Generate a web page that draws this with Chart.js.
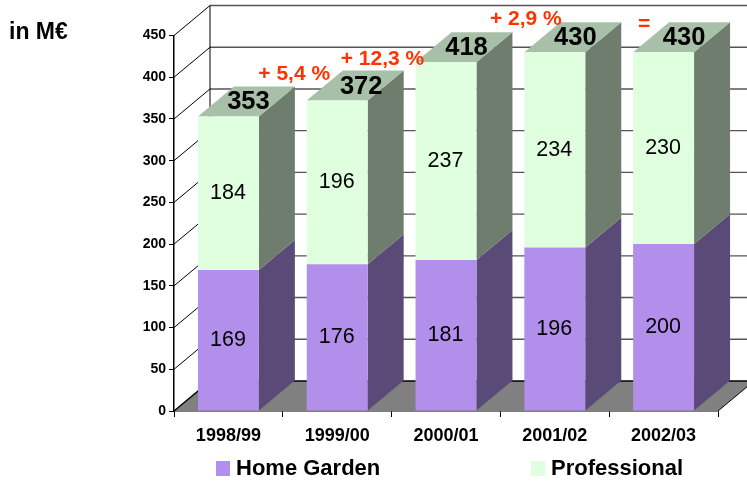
<!DOCTYPE html>
<html>
<head>
<meta charset="utf-8">
<title>Revenue by season</title>
<script src="https://cdn.jsdelivr.net/npm/chart.js@4/dist/chart.umd.min.js"></script>
<style>
  html, body { margin: 0; padding: 0; background: #fff; }
  canvas { display: block; }
</style>
</head>
<body>
<canvas id="myChart" width="747" height="483"></canvas>
<script>
const seasons = ['1998/99', '1999/00', '2000/01', '2001/02', '2002/03'];
const homeGarden = [169, 176, 181, 196, 200];
const professional = [184, 196, 237, 234, 230];
const totals = [353, 372, 418, 430, 430];
const growth = ['+ 5,4 %', '+ 12,3 %', '+ 2,9 %', '='];
const yMax = 450;
const yStep = 50;

const FONT = '"Liberation Sans", Arial, sans-serif';
const DEPTH_X = 36;
const DEPTH_Y = 30;

function poly(ctx, pts, fill) {
  ctx.beginPath();
  pts.forEach((p, i) => i ? ctx.lineTo(p[0], p[1]) : ctx.moveTo(p[0], p[1]));
  ctx.closePath();
  ctx.fillStyle = fill;
  ctx.fill();
}

function line(ctx, x1, y1, x2, y2, color, width) {
  ctx.beginPath();
  ctx.moveTo(x1, y1);
  ctx.lineTo(x2, y2);
  ctx.strokeStyle = color;
  ctx.lineWidth = width;
  ctx.stroke();
}

// back wall, side wall and floor of the box, then the bar sides and tops
const box3d = {
  id: 'box3d',
  beforeDatasetsDraw(chart) {
    const { ctx, chartArea: a, scales: { y } } = chart;
    ctx.save();

    for (let v = yStep; v <= yMax; v += yStep) {
      const py = y.getPixelForValue(v);
      line(ctx, a.left + DEPTH_X, py - DEPTH_Y, a.right + DEPTH_X, py - DEPTH_Y, '#555', 1.4);
      line(ctx, a.left, py, a.left + DEPTH_X, py - DEPTH_Y, '#000', 1);
    }
    line(ctx, a.left + DEPTH_X, a.top - DEPTH_Y, a.left + DEPTH_X, a.bottom - DEPTH_Y, '#000', 1);

    poly(ctx, [[a.left, a.bottom], [a.right, a.bottom],
      [a.right + DEPTH_X, a.bottom - DEPTH_Y], [a.left + DEPTH_X, a.bottom - DEPTH_Y]], '#808080');
    line(ctx, a.left + DEPTH_X, a.bottom - DEPTH_Y, a.right + DEPTH_X, a.bottom - DEPTH_Y, '#000', 1.5);
    line(ctx, a.left, a.bottom, a.left + DEPTH_X, a.bottom - DEPTH_Y, '#000', 1.5);
    line(ctx, a.right, a.bottom, a.right + DEPTH_X, a.bottom - DEPTH_Y, '#000', 1);

    const sides = ['#5a4a78', '#6e7d6e'];
    chart.data.datasets.forEach((ds, i) => {
      chart.getDatasetMeta(i).data.forEach(bar => {
        const r = bar.x + bar.width / 2;
        poly(ctx, [[r, bar.base], [r, bar.y], [r + DEPTH_X, bar.y - DEPTH_Y], [r + DEPTH_X, bar.base - DEPTH_Y]], sides[i]);
      });
    });
    chart.getDatasetMeta(1).data.forEach(bar => {
      const l = bar.x - bar.width / 2, r = bar.x + bar.width / 2;
      poly(ctx, [[l, bar.y], [r, bar.y], [r + DEPTH_X, bar.y - DEPTH_Y], [l + DEPTH_X, bar.y - DEPTH_Y]], '#a8bfa8');
    });
    ctx.restore();
  },
  afterDatasetsDraw(chart) {
    const { ctx } = chart;
    ctx.save();
    ctx.textAlign = 'center';
    ctx.textBaseline = 'middle';
    ctx.fillStyle = '#000';

    // segment values
    ctx.font = '21.5px ' + FONT;
    const low = chart.getDatasetMeta(0).data;
    const up = chart.getDatasetMeta(1).data;
    low.forEach((bar, i) => ctx.fillText(homeGarden[i], bar.x - 0.5, (bar.y + bar.base) / 2));
    up.forEach((bar, i) => ctx.fillText(professional[i], bar.x - 0.5, (bar.y + bar.base) / 2));

    // totals sit on the top face
    ctx.font = 'bold 25.5px ' + FONT;
    const totalDx = [20, 24, 20.5, 20.5, 20.5];
    up.forEach((bar, i) => ctx.fillText(totals[i], bar.x + totalDx[i], bar.y - 14));

    // year over year change, between the bars
    ctx.font = 'bold 21px ' + FONT;
    ctx.fillStyle = '#ff3300';
    const offX = [-43, -63.5, -29, -19.5];
    const offY = [-26, -3, -33, -28];
    growth.forEach((txt, i) => {
      const bar = up[i + 1];
      ctx.fillText(txt, bar.x + offX[i], bar.y + offY[i]);
    });

    // unit label
    ctx.fillStyle = '#000';
    ctx.textAlign = 'left';
    ctx.font = 'bold 23px ' + FONT;
    ctx.fillText('in M€', 9, 33);

    // legend
    ctx.font = 'bold 22px ' + FONT;
    [216, 531].forEach((x, i) => {
      const ds = chart.data.datasets[i];
      ctx.fillStyle = ds.backgroundColor;
      ctx.fillRect(x, 461, 14, 15);
      ctx.fillStyle = '#000';
      ctx.fillText(ds.label, x + 20, 469);
    });
    ctx.restore();
  }
};

var ctx = document.getElementById('myChart').getContext('2d');

new Chart(ctx, {
  type: 'bar',
  data: {
    labels: seasons,
    datasets: [
      { label: 'Home Garden', data: homeGarden, backgroundColor: '#b28feb', barPercentage: 1, categoryPercentage: 0.56 },
      { label: 'Professional', data: professional, backgroundColor: '#dfffdf', barPercentage: 1, categoryPercentage: 0.56 }
    ]
  },
  options: {
    responsive: false,
    animation: false,
    plugins: { legend: { display: false }, tooltip: { enabled: false } },
    layout: { padding: { top: 35.5, right: 29, bottom: 0, left: 0 } },
    scales: {
      x: {
        stacked: true,
        afterFit(scale) { scale.height = 72; },
        border: { color: '#000', width: 1.5 },
        grid: { drawOnChartArea: false, color: '#000', tickLength: 6, offset: true },
        ticks: { color: '#000', font: { family: FONT, size: 18, weight: 'bold' }, padding: 8, maxRotation: 0 }
      },
      y: {
        stacked: true,
        min: 0,
        max: yMax,
        afterFit(scale) { scale.width = 174; },
        border: { color: '#000', width: 1.5 },
        grid: { drawOnChartArea: false, color: '#000', tickLength: 5 },
        ticks: { stepSize: yStep, color: '#000', font: { family: FONT, size: 14, weight: 'bold' }, padding: 3 }
      }
    }
  },
  plugins: [box3d]
});
</script>
</body>
</html>
